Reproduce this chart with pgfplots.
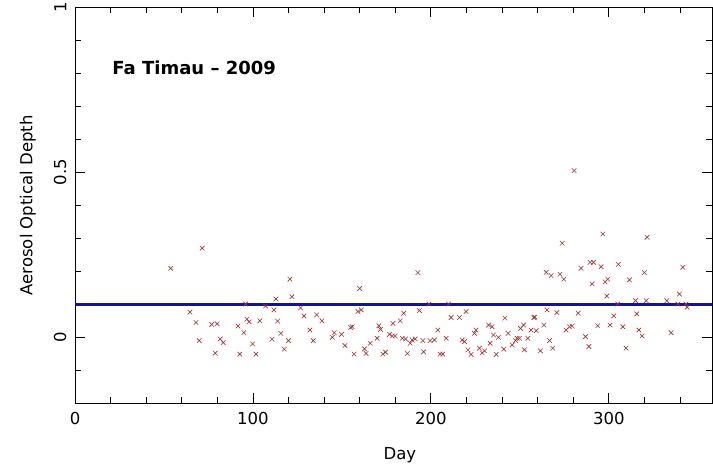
\documentclass[border=0pt]{standalone}
\usepackage{pgfplots}
\pgfplotsset{compat=1.18}
\usepackage{fontspec}
\setmainfont{DejaVu Sans}
\definecolor{mkred}{RGB}{160,50,50}
\definecolor{lineblue}{RGB}{20,20,150}
\begin{document}
\begin{tikzpicture}
\begin{axis}[
  scale only axis,
  width=637pt, height=396pt,
  at={(0,0)}, anchor=south west,
  xmin=0, xmax=358, ymin=-0.2, ymax=1,
  xtick={0,100,200,300}, ytick={0,0.5,1},
  minor xtick={20,40,60,80,120,140,160,180,220,240,260,280,320,340},
  minor ytick={-0.1,0.1,0.2,0.3,0.4,0.6,0.7,0.8,0.9},
  tick align=inside,
  major tick length=10pt, minor tick length=6pt,
  every tick/.style={black, line width=0.8pt},
  axis line style={line width=0.8pt},
  /pgf/number format/assume math mode=true,
  tick label style={font=\fontsize{16.5}{18}\selectfont},
  xticklabel shift=5pt,
  yticklabel style={rotate=90, anchor=south},
  yticklabel shift=5pt,
  label style={font=\fontsize{16.5}{18}\selectfont},
  xlabel={Day},
  xlabel style={at={(axis description cs:0.51,-0.131)}, anchor=center},
  ylabel={Aerosol Optical Depth},
  ylabel style={at={(axis description cs:-0.074,0.5)}, anchor=center},
  clip=true,
]
\addplot[only marks, mark=x, mark size=3.2pt, mark options={mkred, line width=0.6pt}] table {
x y
53.8 0.209
71.5 0.270
64.6 0.076
68.0 0.045
69.8 -0.010
76.8 0.039
79.9 0.041
78.8 -0.048
81.6 -0.005
83.3 -0.016
91.6 0.034
92.6 -0.051
94.9 0.014
95.9 0.101
96.6 0.055
97.9 0.047
99.8 -0.020
101.7 -0.051
103.9 0.050
107.1 0.095
110.7 -0.006
111.8 0.083
112.9 0.116
113.9 0.049
115.7 0.012
117.6 -0.036
120.0 -0.010
120.8 0.176
121.9 0.123
126.8 0.089
128.7 0.065
132.0 0.022
133.9 -0.010
135.8 0.068
138.8 0.050
144.6 0.000
145.7 0.014
149.8 0.009
151.7 -0.025
154.9 0.030
155.8 0.032
156.9 -0.051
159.0 0.078
160.0 0.148
160.9 0.083
162.7 -0.035
163.6 -0.049
165.9 -0.018
169.8 -0.003
170.8 0.035
171.7 0.024
173.0 -0.051
174.5 -0.045
176.8 0.009
178.3 0.004
178.7 0.042
180.0 0.004
182.8 0.050
184.7 0.073
183.9 -0.003
185.8 -0.005
186.7 -0.049
188.4 -0.018
189.5 -0.008
191.2 -0.005
192.7 0.196
193.6 0.081
195.5 -0.010
195.9 -0.044
198.9 0.101
199.6 -0.010
202.0 -0.008
203.9 0.022
205.2 -0.051
206.7 -0.051
208.6 -0.003
209.9 0.101
211.4 0.060
216.1 0.060
217.6 -0.008
218.9 -0.013
219.8 0.078
220.8 -0.038
222.6 -0.052
224.5 0.012
225.4 0.022
227.3 -0.033
228.8 -0.047
230.2 -0.041
232.4 0.037
234.4 0.032
233.3 -0.018
235.2 0.007
238.0 0.000
236.7 -0.052
241.6 0.058
241.0 -0.036
243.4 0.012
245.7 -0.023
247.6 -0.010
248.5 -0.003
249.8 -0.003
250.4 0.027
252.1 0.037
252.6 -0.038
254.5 -0.003
256.3 0.022
259.2 0.020
257.9 0.060
258.4 0.061
261.6 -0.041
263.5 0.037
265.3 0.083
264.8 0.197
267.6 0.187
266.7 -0.010
268.5 -0.033
270.8 0.075
272.6 0.191
274.7 0.176
273.8 0.285
276.0 0.022
277.9 0.032
279.4 0.034
280.5 0.505
282.8 0.073
284.4 0.209
286.9 0.002
288.8 -0.028
289.5 0.227
291.4 0.227
290.6 0.162
293.8 0.035
295.7 0.214
296.6 0.313
297.9 0.168
299.4 0.176
298.9 0.125
300.7 0.037
302.8 0.065
305.4 0.221
305.0 0.101
307.9 0.032
309.7 -0.033
311.6 0.174
315.0 0.111
315.7 0.071
316.9 0.022
318.7 0.004
320.0 0.196
321.0 0.111
321.5 0.303
332.6 0.111
335.0 0.014
338.8 0.101
339.7 0.131
341.6 0.212
343.4 0.101
344.0 0.091
};
\addplot[lineblue, line width=2.6pt] coordinates {(0,0.1) (358,0.1)};
\node[font=\fontsize{18}{20}\selectfont\bfseries, anchor=center] at (axis cs:67,0.816) {Fa Timau -- 2009};
\end{axis}
\pgfresetboundingbox
\useasboundingbox (-75pt,-65.7pt) rectangle (638pt,403.3pt);
\end{tikzpicture}
\end{document}
